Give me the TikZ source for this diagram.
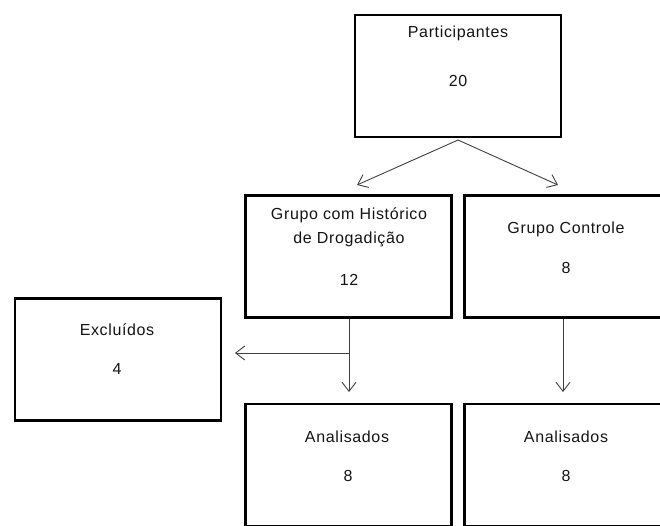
\documentclass[tikz,border=0pt]{standalone}
\usepackage{fontspec}
\setmainfont{Liberation Sans}[LetterSpace=4]
\usetikzlibrary{arrows.meta}
\begin{document}
\begin{tikzpicture}[x=1pt,y=-1pt,
  box/.style={draw=black, line width=2.9pt, minimum width=206pt, minimum height=122pt, inner sep=0pt},
  lbl/.style={text=black!92, font=\fontsize{16}{19}\selectfont, inner sep=0pt, anchor=base},
  conn/.style={draw=black!75, line width=0.9pt},
  arr/.style={conn, -{Straight Barb[length=9pt,width=14pt,line width=0.9pt]}}]
\useasboundingbox (0,0) rectangle (660,525);
\clip (0,0) rectangle (660,525);
% boxes
\node[box] (part) at (458,76) {};
\node[box] (grp) at (348.5,256.5) {};
\node[box] (ctl) at (567.5,256.5) {};
\node[box] (exc) at (118,359.5) {};
\node[box] (anl) at (348.5,465) {};
\node[box] (anr) at (567.5,465) {};
% texts
\node[lbl] (tpart) at (458,37) {Participantes};
\node[lbl] (npart) at (458,86) {20};
\node[lbl] (tgrp1) at (349,219) {Grupo com Histórico};
\node[lbl] (tgrp2) at (349,243) {de Drogadição};
\node[lbl] (ngrp) at (349,285) {12};
\node[lbl] (tctl) at (566,233) {Grupo Controle};
\node[lbl] (nctl) at (566,273) {8};
\node[lbl] (texc) at (117,335) {Excluídos};
\node[lbl] (nexc) at (117,374) {4};
\node[lbl] (tanl) at (347,442) {Analisados};
\node[lbl] (nanl) at (348,481) {8};
\node[lbl] (tanr) at (566,442) {Analisados};
\node[lbl] (nanr) at (566,481) {8};
% connector points
\coordinate (apex) at (458,140);
\coordinate (t1) at (357,185);
\coordinate (t2) at (558,185);
\coordinate (s1) at (349,319);
\coordinate (b1) at (349,353);
\coordinate (d1) at (349,392);
\coordinate (e1) at (235,353);
\coordinate (s2) at (563,319);
\coordinate (d2) at (563,392);
% connectors
\draw[arr] (apex) -- (t1);
\draw[arr] (apex) -- (t2);
\draw[arr] (s1) -- (d1);
\draw[arr] (b1) -- (e1);
\draw[arr] (s2) -- (d2);
\end{tikzpicture}
\end{document}
